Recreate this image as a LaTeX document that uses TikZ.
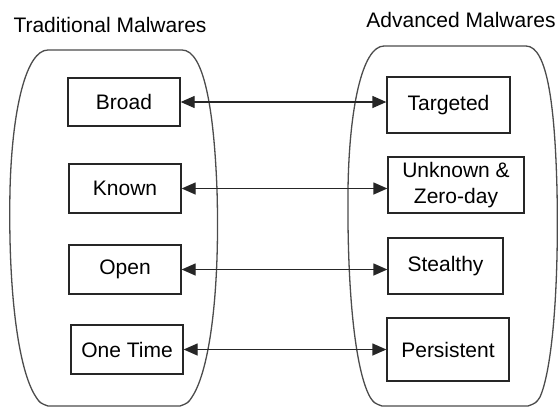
\documentclass[tikz,border=0pt]{standalone}
\usepackage{fontspec}
\setmainfont{Liberation Sans}
\usetikzlibrary{arrows.meta}
\begin{document}
\begin{tikzpicture}[x=1pt,y=-1pt,
  every node/.style={font=\fontsize{21}{26}\selectfont, inner sep=0pt},
  boxnode/.style={draw=black!85, line width=1.3pt, align=center},
  container/.style={draw=black!70, line width=1.3pt},
  link/.style={draw=black!85, line width=1.3pt, arrows={Triangle[length=14pt,width=12pt]-Triangle[length=14pt,width=12pt]}}]
\useasboundingbox (0,0) rectangle (559,407);
\fill[white] (0,0) rectangle (559,407);
% containers
\draw[container] (48,50) -- (182,50) .. controls (204,50) and (214,110) .. (217,190)
  .. controls (220,290) and (210,370) .. (192,397) .. controls (188,403) .. (180,406)
  -- (48,406) .. controls (40,403) .. (36,397) .. controls (18,370) and (8,290) .. (10,190)
  .. controls (12,110) and (26,50) .. (48,50);
\draw[container] (384,46) -- (526,46) .. controls (548,46) and (555,110) .. (557,190)
  .. controls (559,290) and (552,370) .. (540,397) .. controls (536,403) .. (528,406)
  -- (382,406) .. controls (374,403) .. (370,397) .. controls (355,370) and (347,290) .. (348,190)
  .. controls (349,110) and (362,46) .. (384,46);
% titles
\node (t1) at (110,25) {Traditional Malwares};
\node (t2) at (461,20) {Advanced Malwares};
% left boxes
\node[boxnode, minimum width=112pt, minimum height=48pt] (broad) at (124,102) {Broad};
\node[boxnode, minimum width=112pt, minimum height=49pt] (known) at (125,188.5) {Known};
\node[boxnode, minimum width=112pt, minimum height=49pt] (open) at (125,269.5) {Open};
\node[boxnode, minimum width=112pt, minimum height=49pt] (onetime) at (127,349.5) {One Time};
% right boxes
\node[boxnode, minimum width=123pt, minimum height=56pt] (targeted) at (448.5,105) {Targeted};
\node[boxnode, minimum width=136pt, minimum height=56pt] (unknown) at (456,185) {Unknown \&\\Zero-day};
\node[boxnode, minimum width=115pt, minimum height=56pt] (stealthy) at (445.5,266) {Stealthy};
\node[boxnode, minimum width=122pt, minimum height=63pt] (persistent) at (448,349.5) {Persistent};
% links
\draw[link] (broad.east) -- (targeted.west |- broad.east);
\draw[link] (known.east) -- (unknown.west |- known.east);
\draw[link] (open.east) -- (stealthy.west |- open.east);
\draw[link] (onetime.east) -- (persistent.west |- onetime.east);
\end{tikzpicture}
\end{document}
